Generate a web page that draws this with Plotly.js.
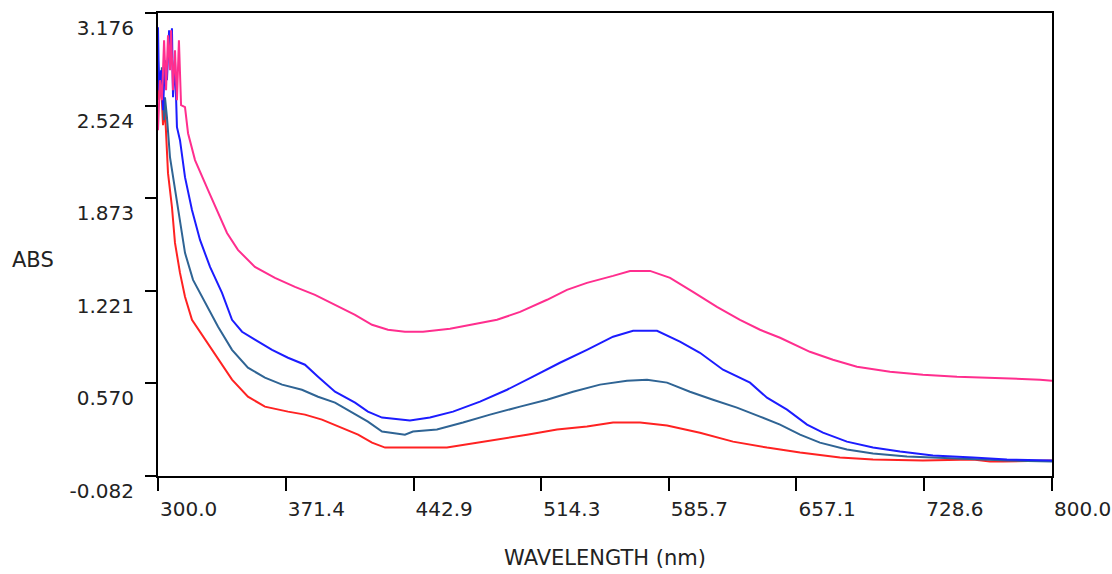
<!DOCTYPE html>
<html>
<head>
<meta charset="utf-8">
<script src="https://cdn.plot.ly/plotly-3.0.1.min.js"></script>
<style>html,body{margin:0;padding:0;background:#fff;}#chart{width:1112px;height:574px;}</style>
</head>
<body>
<div id="chart"></div>
<script>
// Wavelength (nm) and absorbance values
const pinkX = [300.0,301.1,302.2,303.4,304.5,305.6,306.7,307.3,308.4,309.5,310.6,311.7,312.9,315.1,316.8,320.7,328.0,333.6,338.6,344.7,354.2,365.4,376.6,387.8,399.0,410.2,419.7,428.6,438.1,448.2,463.3,478.4,489.6,502.5,517.6,528.7,539.9,554.5,564.0,575.2,586.4,599.2,612.6,625.5,636.7,647.9,664.6,677.5,690.9,709.4,727.8,746.9,765.3,793.3,800.0];
const pinkY = [2.351,2.703,2.562,2.984,2.632,3.019,2.773,3.054,2.632,2.913,2.562,2.984,2.527,2.513,2.330,2.141,1.930,1.769,1.628,1.509,1.389,1.312,1.249,1.193,1.122,1.052,0.982,0.947,0.933,0.933,0.954,0.989,1.017,1.073,1.158,1.228,1.277,1.326,1.361,1.361,1.312,1.214,1.108,1.017,0.947,0.891,0.792,0.736,0.687,0.652,0.631,0.617,0.610,0.596,0.589];

const blueX = [300.0,300.6,301.7,302.8,303.9,305.0,306.2,307.3,307.8,308.4,309.5,310.6,312.3,315.1,319.0,323.5,329.1,335.8,341.4,347.0,354.2,363.8,372.7,382.2,389.5,399.0,410.2,417.4,425.3,438.1,440.9,452.1,465.0,480.1,495.2,509.7,524.8,539.9,554.5,565.7,579.1,591.9,603.1,616.0,631.1,640.6,651.8,663.0,671.9,685.3,699.9,715.0,733.4,755.8,774.8,800.0];
const blueY = [3.075,2.632,2.773,2.492,2.843,2.703,3.054,2.913,3.068,2.583,2.843,2.373,2.281,2.021,1.790,1.579,1.389,1.207,1.017,0.933,0.877,0.806,0.750,0.701,0.617,0.511,0.434,0.371,0.329,0.315,0.308,0.329,0.371,0.441,0.525,0.617,0.715,0.806,0.898,0.940,0.940,0.863,0.785,0.666,0.575,0.469,0.385,0.280,0.223,0.160,0.118,0.090,0.062,0.048,0.034,0.027];

const steelX = [300.0,301.1,302.2,303.4,303.9,305.0,306.7,309.5,312.3,315.1,319.6,326.3,333.6,341.4,350.3,359.8,369.4,380.5,389.5,399.0,410.2,417.4,425.3,438.1,442.6,456.0,470.6,485.7,502.5,517.6,532.1,547.2,562.3,573.5,584.7,597.5,610.4,623.8,636.7,647.9,659.1,670.2,685.3,699.9,718.9,746.9,774.8,800.0];
const steelY = [2.843,2.597,2.794,2.422,2.583,2.443,2.162,1.930,1.719,1.488,1.298,1.136,0.968,0.806,0.680,0.610,0.561,0.525,0.476,0.434,0.350,0.301,0.231,0.209,0.231,0.245,0.294,0.350,0.406,0.455,0.511,0.561,0.589,0.596,0.575,0.511,0.455,0.399,0.336,0.280,0.209,0.153,0.104,0.076,0.055,0.041,0.027,0.020];

const redX = [300.0,300.6,301.7,302.8,303.9,305.0,305.6,307.8,309.5,312.3,315.1,319.0,326.3,333.6,341.4,350.3,359.8,372.7,382.2,391.7,402.9,411.9,419.7,427.0,461.6,476.2,489.6,506.4,523.2,539.9,554.5,569.6,584.7,603.1,621.6,640.6,659.1,681.4,699.9,727.8,755.8,765.3,772.6,800.0];
const redY = [2.773,2.562,2.703,2.387,2.492,2.260,2.049,1.811,1.558,1.347,1.179,1.017,0.877,0.736,0.596,0.476,0.406,0.371,0.350,0.315,0.259,0.209,0.153,0.118,0.118,0.146,0.174,0.209,0.245,0.266,0.294,0.294,0.273,0.223,0.160,0.118,0.083,0.048,0.034,0.027,0.034,0.020,0.020,0.027];

const xTicks = [300.0,371.4,442.9,514.3,585.7,657.1,728.6,800.0];
const xTickText = ["300.0","371.4","442.9","514.3","585.7","657.1","728.6","800.0"];
const yTicks = [-0.082,0.570,1.221,1.873,2.524,3.176];
const yTickText = ["-0.082","0.570","1.221","1.873","2.524","3.176"];

const font = {family: "DejaVu Sans", size: 20, color: "#222"};
const titleFont = {family: "DejaVu Sans", size: 21, color: "#222"};

const traces = [
  {x: redX, y: redY, mode: "lines", line: {color: "#ff2222", width: 2}, name: "red"},
  {x: steelX, y: steelY, mode: "lines", line: {color: "#2f6494", width: 2}, name: "steel"},
  {x: blueX, y: blueY, mode: "lines", line: {color: "#1c1cff", width: 2}, name: "blue"},
  {x: pinkX, y: pinkY, mode: "lines", line: {color: "#ff2e8e", width: 2}, name: "pink"}
];

const layout = {
  width: 1112, height: 574,
  margin: {l: 158, r: 60, t: 13, b: 98},
  paper_bgcolor: "#fff", plot_bgcolor: "#fff",
  showlegend: false,
  font: font,
  xaxis: {
    range: [300, 800], tickvals: xTicks, ticktext: xTickText,
    ticks: "outside", ticklen: 13, tickwidth: 2, tickcolor: "#000",
    ticklabelposition: "outside right", ticklabelstandoff: 14,
    showline: true, linecolor: "#000", linewidth: 2, mirror: true,
    showgrid: false, zeroline: false,
    tickfont: font,
    title: {text: "WAVELENGTH (nm)", font: titleFont, standoff: 30}
  },
  yaxis: {
    range: [-0.082, 3.176], tickvals: yTicks, ticktext: yTickText,
    ticks: "outside", ticklen: 11, tickwidth: 2, tickcolor: "#000",
    ticklabelposition: "outside bottom", ticklabelstandoff: 18,
    showline: true, linecolor: "#000", linewidth: 2, mirror: true,
    showgrid: false, zeroline: false,
    tickfont: font
  },
  annotations: [
    {text: "ABS", xref: "paper", yref: "paper", x: -0.1655, y: 0.467,
     xanchor: "left", yanchor: "middle", showarrow: false, font: titleFont}
  ]
};

Plotly.newPlot("chart", traces, layout, {displayModeBar: false, staticPlot: true});
</script>
</body>
</html>
